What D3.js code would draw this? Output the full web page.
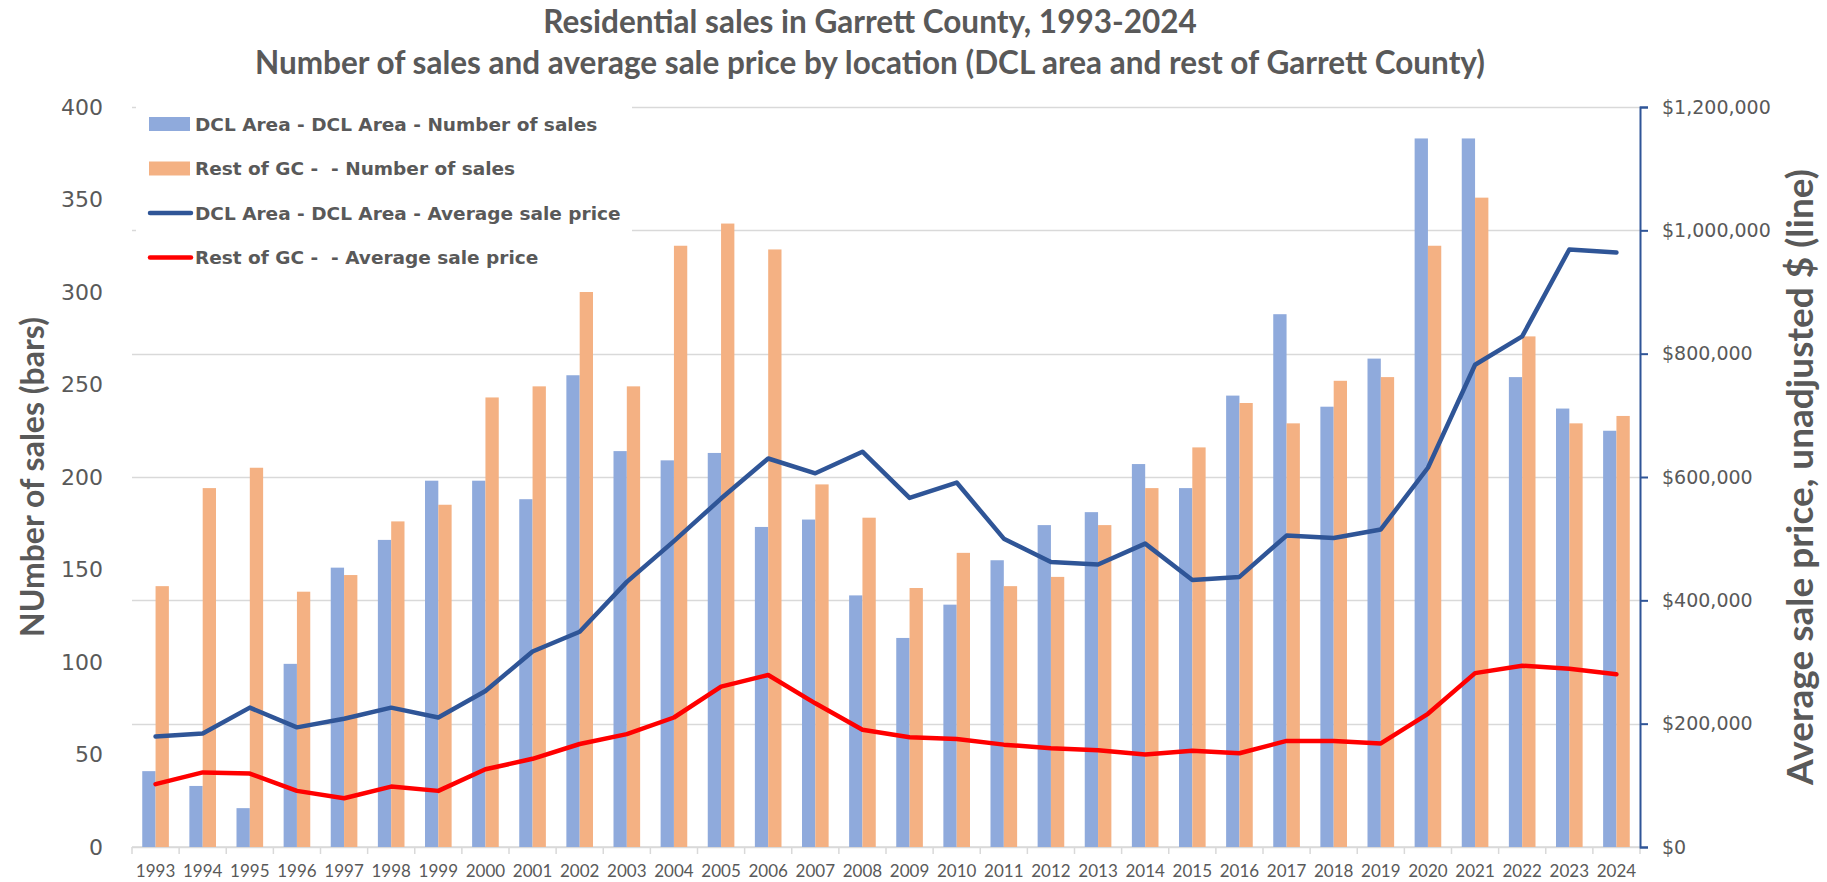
<!DOCTYPE html>
<html>
<head>
<meta charset="utf-8">
<script src="https://cdn.jsdelivr.net/npm/d3@7"></script>
<style>
  body { margin: 0; background: #fff; }
  svg { display: block; }
</style>
</head>
<body>
<svg id="chart"></svg>
<script>
// chart values
const years = ['1993','1994','1995','1996','1997','1998','1999','2000','2001','2002','2003','2004','2005','2006','2007','2008',
  '2009','2010','2011','2012','2013','2014','2015','2016','2017','2018','2019','2020','2021','2022','2023','2024'];
const dclSales = [41,33,21,99,151,166,198,198,188,255,214,209,213,173,177,136,113,131,155,174,181,207,194,244,288,238,264,383,383,254,237,225];
const restSales = [141,194,205,138,147,176,185,243,249,300,249,325,337,323,196,178,140,159,141,146,174,194,216,240,229,252,254,325,351,276,229,233];
const dclPrice = [179000,184000,226000,194000,208000,226000,210000,253000,317000,349000,430000,496000,565000,630000,606000,641000,
  566000,591000,500000,462000,458000,492000,433000,438000,505000,501000,515000,615000,782000,828000,969000,964000];
const restPrice = [102000,121000,119000,91000,79000,98000,91000,126000,143000,167000,183000,210000,260000,279000,233000,190000,
  178000,175000,166000,160000,157000,150000,156000,152000,172000,172000,168000,216000,282000,294000,289000,280000];
const salesTicks = [0,50,100,150,200,250,300,350,400];
const priceTicks = [0,200000,400000,600000,800000,1000000,1200000];
const legendLabels = ['DCL Area - DCL Area - Number of sales', 'Rest of GC -  - Number of sales',
  'DCL Area - DCL Area - Average sale price', 'Rest of GC -  - Average sale price'];
const titleLines = ['Residential sales in Garrett County, 1993-2024',
  'Number of sales and average sale price by location (DCL area and rest of Garrett County)'];

const width = 1827, height = 882;
const margin = {top: 107, right: 187, bottom: 35, left: 132};
const plotW = width - margin.left - margin.right;
const plotH = height - margin.top - margin.bottom;

const grey = '#595959';
const colBlueBar = '#8FAADC', colOrangeBar = '#F4B183';
const colBlueLine = '#2F5597', colRedLine = '#FF0000';

const svg = d3.select('#chart')
  .attr('width', width)
  .attr('height', height);

svg.append('rect').attr('width', width).attr('height', height).attr('fill', '#fff');

// two-line title
svg.selectAll('.title')
  .data(titleLines)
  .join('text')
  .attr('class', 'title')
  .attr('x', 870)
  .attr('y', (d, i) => 33 + i * 41)
  .attr('text-anchor', 'middle')
  .style('font-family', 'Lato, "Open Sans", sans-serif')
  .style('font-weight', 700)
  .style('font-size', '31.5px')
  .attr('fill', grey)
  .text(d => d);

const chart = svg.append('g')
  .attr('transform', `translate(${margin.left},${margin.top})`);

// scales
const x = d3.scaleBand().domain(years).range([0, plotW]).paddingInner(0.435).paddingOuter(0.2175);
const xSeries = d3.scaleBand().domain(['dcl', 'rest']).range([0, x.bandwidth()]);
const ySales = d3.scaleLinear().domain([0, 400]).range([plotH, 0]);
const yPrice = d3.scaleLinear().domain([0, 1200000]).range([plotH, 0]);

// gridlines follow the price axis
chart.append('g')
  .attr('class', 'grid')
  .selectAll('line')
  .data(priceTicks)
  .join('line')
  .attr('x1', 0).attr('x2', plotW)
  .attr('y1', d => Math.round(yPrice(d)) + 0.5)
  .attr('y2', d => Math.round(yPrice(d)) + 0.5)
  .attr('stroke', '#D9D9D9')
  .attr('stroke-width', 1.5);

// x axis with ticks between categories
const step = x.step();
const xAxisG = chart.append('g').attr('transform', `translate(0,${plotH})`);
xAxisG.append('line')
  .attr('x1', 0).attr('x2', plotW)
  .attr('stroke', '#D9D9D9').attr('stroke-width', 1.5);
xAxisG.selectAll('.tick-mark')
  .data(d3.range(years.length + 1))
  .join('line')
  .attr('class', 'tick-mark')
  .attr('x1', i => i * step).attr('x2', i => i * step)
  .attr('y1', 0).attr('y2', 7)
  .attr('stroke', '#D9D9D9').attr('stroke-width', 1.5);
xAxisG.selectAll('.year')
  .data(years)
  .join('text')
  .attr('class', 'year')
  .attr('x', d => x(d) + x.bandwidth() / 2)
  .attr('y', 30)
  .attr('text-anchor', 'middle')
  .style('font-family', 'Lato, sans-serif')
  .style('font-size', '17px')
  .attr('fill', grey)
  .text(d => d);

// bars
const groups = chart.selectAll('.year-group')
  .data(years.map((y, i) => ({year: y, dcl: dclSales[i], rest: restSales[i]})))
  .join('g')
  .attr('class', 'year-group')
  .attr('transform', d => `translate(${x(d.year)},0)`);

groups.selectAll('rect')
  .data(d => [{key: 'dcl', value: d.dcl}, {key: 'rest', value: d.rest}])
  .join('rect')
  .attr('x', d => xSeries(d.key))
  .attr('y', d => ySales(d.value))
  .attr('width', xSeries.bandwidth())
  .attr('height', d => plotH - ySales(d.value))
  .attr('fill', d => d.key === 'dcl' ? colBlueBar : colOrangeBar);

// price lines
const line = d3.line()
  .x((d, i) => x(years[i]) + x.bandwidth() / 2)
  .y(d => yPrice(d));

chart.append('path')
  .datum(dclPrice)
  .attr('d', line)
  .attr('fill', 'none')
  .attr('stroke', colBlueLine)
  .attr('stroke-width', 4.5)
  .attr('stroke-linejoin', 'round')
  .attr('stroke-linecap', 'round');

chart.append('path')
  .datum(restPrice)
  .attr('d', line)
  .attr('fill', 'none')
  .attr('stroke', colRedLine)
  .attr('stroke-width', 4.5)
  .attr('stroke-linejoin', 'round')
  .attr('stroke-linecap', 'round');

// left axis (labels only)
const leftAxisG = chart.append('g')
  .call(d3.axisLeft(ySales).tickValues(salesTicks).tickSize(0).tickPadding(29));
leftAxisG.select('.domain').remove();
leftAxisG.selectAll('text')
  .style('font-family', '"DejaVu Sans", Verdana, sans-serif')
  .style('font-size', '22px')
  .attr('fill', grey);

// right axis
const rightAxisG = chart.append('g')
  .attr('transform', `translate(${plotW},0)`)
  .call(d3.axisRight(yPrice).tickValues(priceTicks).tickSize(8).tickPadding(14).tickFormat(d3.format('$,')));
rightAxisG.select('.domain').attr('stroke', colBlueLine).attr('stroke-width', 2);
rightAxisG.selectAll('.tick line').attr('stroke', colBlueLine).attr('stroke-width', 2);
rightAxisG.selectAll('text')
  .style('font-family', '"DejaVu Sans", Verdana, sans-serif')
  .style('font-size', '19px')
  .attr('fill', grey);

// axis titles
svg.append('text')
  .attr('transform', `translate(44,${margin.top + plotH / 2}) rotate(-90)`)
  .attr('text-anchor', 'middle')
  .style('font-family', 'Lato, sans-serif')
  .style('font-weight', 700)
  .style('font-size', '32px')
  .attr('fill', grey)
  .text('NUmber of sales (bars)');

svg.append('text')
  .attr('transform', `translate(1813,${margin.top + plotH / 2}) rotate(-90)`)
  .attr('text-anchor', 'middle')
  .style('font-family', 'Lato, sans-serif')
  .style('font-weight', 700)
  .style('font-size', '37px')
  .attr('fill', grey)
  .text('Average sale price, unadjusted $ (line)');

// legend on a white box over the gridlines
const legend = chart.append('g').attr('transform', 'translate(4,-6)');
legend.append('rect')
  .attr('width', 496).attr('height', 176)
  .attr('fill', '#fff');

const legendItems = legend.selectAll('.legend-item')
  .data(legendLabels)
  .join('g')
  .attr('class', 'legend-item')
  .attr('transform', (d, i) => `translate(0,${23 + i * 44.5})`);

legendItems.filter((d, i) => i < 2)
  .append('rect')
  .attr('x', 13).attr('y', -7)
  .attr('width', 41).attr('height', 14)
  .attr('fill', (d, i) => i === 0 ? colBlueBar : colOrangeBar);

legendItems.filter((d, i) => i >= 2)
  .append('line')
  .attr('x1', 14).attr('x2', 55)
  .attr('stroke', (d, i) => i === 0 ? colBlueLine : colRedLine)
  .attr('stroke-width', 4.5)
  .attr('stroke-linecap', 'round');

legendItems.append('text')
  .attr('x', 59)
  .attr('dy', '0.36em')
  .style('font-family', '"DejaVu Sans", Verdana, sans-serif')
  .style('font-weight', 700)
  .style('font-size', '18.5px')
  .style('white-space', 'pre')
  .attr('fill', grey)
  .text(d => d);
</script>
</body>
</html>
